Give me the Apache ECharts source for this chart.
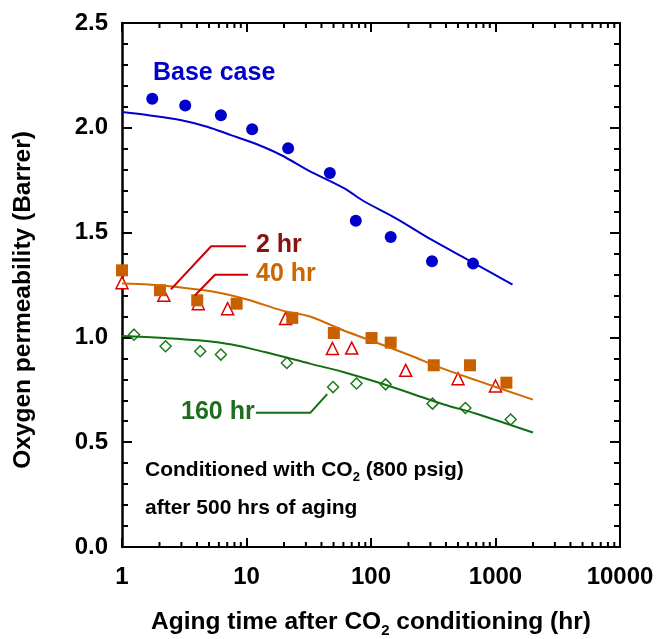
<!DOCTYPE html>
<html>
<head>
<meta charset="utf-8">
<script src="https://cdn.jsdelivr.net/npm/echarts@6/dist/echarts.min.js"></script>
<style>
  html, body { margin: 0; padding: 0; background: #fff; }
  #chart { width: 656px; height: 639px; }
</style>
</head>
<body>
<div id="chart"></div>
<script>
// measured points (hours, Barrer)
var baseHours = [1.75, 3.22, 6.23, 11.1, 21.6, 46.7, 75.5, 144, 309, 660];
var basePerm  = [2.139, 2.106, 2.060, 1.993, 1.902, 1.784, 1.557, 1.479, 1.363, 1.352];

var hr2Hours = [1, 2.17, 4.1, 7.05, 20.6, 49, 70, 190, 500, 1000];
var hr2Perm  = [1.261, 1.201, 1.161, 1.137, 1.090, 0.947, 0.949, 0.843, 0.803, 0.768];

var hr40Hours = [1, 2.02, 4.02, 8.33, 23.3, 50.3, 101, 144, 319, 624, 1223];
var hr40Perm  = [1.320, 1.225, 1.177, 1.161, 1.093, 1.021, 0.997, 0.975, 0.867, 0.867, 0.784];

var hr160Hours = [1.25, 2.24, 4.25, 6.23, 21.1, 49.6, 76.5, 131, 312, 573, 1325];
var hr160Perm  = [1.013, 0.958, 0.934, 0.918, 0.878, 0.763, 0.780, 0.776, 0.684, 0.663, 0.608];

// model curves
var baseFitHours = [1, 1.63, 3.0, 4.9, 7.6, 11.7, 19.1, 31.3, 61.6, 86.4, 160, 296, 660, 1370];
var baseFitPerm  = [2.075, 2.060, 2.036, 2.004, 1.964, 1.925, 1.869, 1.797, 1.710, 1.652, 1.567, 1.471, 1.357, 1.252];

var hr40FitHours = [1, 1.63, 3.0, 5.6, 10.3, 19.1, 32.3, 59.7, 111, 205, 379, 703, 2000];
var hr40FitPerm  = [1.257, 1.252, 1.238, 1.217, 1.180, 1.129, 1.100, 1.034, 0.975, 0.915, 0.851, 0.795, 0.703];

var hr160FitHours = [1, 2.2, 4.1, 7.6, 14, 32.3, 59.7, 111, 205, 379, 703, 2000];
var hr160FitPerm  = [1.007, 0.997, 0.986, 0.966, 0.930, 0.875, 0.835, 0.787, 0.735, 0.681, 0.636, 0.546];

// leader lines for the labels
var leader2Hours = [2.47, 5.2, 9.9];
var leader2Perm  = [1.229, 1.435, 1.435];
var leader40Hours = [3.85, 5.58, 10.3];
var leader40Perm  = [1.200, 1.299, 1.299];
var leader160Hours = [11.9, 32.5, 44.5];
var leader160Perm  = [0.640, 0.640, 0.729];

var yTicks = ['0.0', '0.5', '1.0', '1.5', '2.0', '2.5'];
var xDecades = [1, 10, 100, 1000];
var xMinorSteps = [2, 3, 4, 5, 6, 7, 8, 9];

var font = '"Liberation Sans", Arial, sans-serif';

function pairs(xs, ys) {
  return xs.map(function (x, i) { return [x, ys[i]]; });
}

var minorTicks = [];
xDecades.forEach(function (d) {
  xMinorSteps.forEach(function (m) { minorTicks.push([d * m, 0]); });
});

var chartDom = document.getElementById('chart');
var myChart = echarts.init(chartDom);
var option;

var axisLine = { show: true, onZero: false, lineStyle: { color: '#000', width: 2 } };

option = {
  animation: false,
  backgroundColor: '#fff',
  grid: { left: 122, right: 36, top: 23, bottom: 92, outerBoundsMode: 'none' },
  xAxis: [
    {
      type: 'log', logBase: 10, min: 1, max: 10000, position: 'bottom',
      axisLine: axisLine,
      axisTick: { inside: true, length: 9, lineStyle: { color: '#000', width: 2 } },
      splitLine: { show: false },
      axisLabel: {
        color: '#000', fontFamily: font, fontWeight: 'bold', fontSize: 24, margin: 18,
        formatter: function (v) { return String(Math.round(v)); }
      },
      name: 'Aging time after CO{s|2} conditioning (hr)',
      nameLocation: 'middle',
      nameGap: 59,
      nameTextStyle: {
        color: '#000', fontFamily: font, fontWeight: 'bold', fontSize: 24.5,
        rich: { s: { fontFamily: font, fontWeight: 'bold', fontSize: 15, padding: [17, 0, 0, 0] } }
      }
    },
    {
      type: 'log', logBase: 10, min: 1, max: 10000, position: 'top',
      axisLine: axisLine,
      axisTick: { inside: true, length: 9, lineStyle: { color: '#000', width: 2 } },
      axisLabel: { show: false },
      splitLine: { show: false }
    }
  ],
  yAxis: [
    {
      type: 'value', min: 0, max: 2.5, interval: 0.5, position: 'left',
      axisLine: { show: true, onZero: false, lineStyle: { color: '#000', width: 2.5 } },
      axisTick: { inside: true, length: 10, lineStyle: { color: '#000', width: 2 } },
      minorTick: { show: true, splitNumber: 5, length: 6, lineStyle: { color: '#000', width: 2 } },
      splitLine: { show: false },
      axisLabel: {
        color: '#000', fontFamily: font, fontWeight: 'bold', fontSize: 24, margin: 14,
        formatter: function (v) { return yTicks[Math.round(v / 0.5)]; }
      },
      name: 'Oxygen permeability (Barrer)',
      nameLocation: 'middle',
      nameGap: 86,
      nameTextStyle: { color: '#000', fontFamily: font, fontWeight: 'bold', fontSize: 24.5, padding: [0, 30, 0, 0] }
    },
    {
      type: 'value', min: 0, max: 2.5, interval: 0.5, position: 'right',
      axisLine: axisLine,
      axisTick: { inside: true, length: 10, lineStyle: { color: '#000', width: 2 } },
      minorTick: { show: true, splitNumber: 5, length: 6, lineStyle: { color: '#000', width: 2 } },
      splitLine: { show: false },
      axisLabel: { show: false }
    }
  ],
  series: [
    {
      name: 'x minor ticks', type: 'custom', silent: true, clip: false,
      data: minorTicks,
      renderItem: function (params, api) {
        var b = api.coord([api.value(0), 0]);
        var t = api.coord([api.value(0), 2.5]);
        return {
          type: 'group',
          children: [
            { type: 'line', shape: { x1: b[0], y1: b[1], x2: b[0], y2: b[1] - 5 }, style: { stroke: '#000', lineWidth: 2 } },
            { type: 'line', shape: { x1: t[0], y1: t[1], x2: t[0], y2: t[1] + 5 }, style: { stroke: '#000', lineWidth: 2 } }
          ]
        };
      }
    },
    {
      name: 'Base case model', type: 'line', smooth: 0.3, showSymbol: false, silent: true,
      data: pairs(baseFitHours, baseFitPerm),
      lineStyle: { color: '#0000cc', width: 2 }
    },
    {
      name: '40 hr model', type: 'line', smooth: 0.3, showSymbol: false, silent: true,
      data: pairs(hr40FitHours, hr40FitPerm),
      lineStyle: { color: '#d06a00', width: 2 }
    },
    {
      name: '160 hr model', type: 'line', smooth: 0.3, showSymbol: false, silent: true,
      data: pairs(hr160FitHours, hr160FitPerm),
      lineStyle: { color: '#116f11', width: 2 }
    },
    {
      name: '2 hr leader', type: 'line', showSymbol: false, silent: true,
      data: pairs(leader2Hours, leader2Perm),
      lineStyle: { color: '#cc0000', width: 2 }
    },
    {
      name: '40 hr leader', type: 'line', showSymbol: false, silent: true,
      data: pairs(leader40Hours, leader40Perm),
      lineStyle: { color: '#cc0000', width: 2 }
    },
    {
      name: '160 hr leader', type: 'line', showSymbol: false, silent: true,
      data: pairs(leader160Hours, leader160Perm),
      lineStyle: { color: '#116f11', width: 2 }
    },
    {
      name: 'Base case', type: 'scatter', symbol: 'circle', symbolSize: 12,
      data: pairs(baseHours, basePerm),
      itemStyle: { color: '#0000cc', opacity: 1 }
    },
    {
      name: '2 hr', type: 'scatter', symbol: 'triangle', symbolSize: 12,
      data: pairs(hr2Hours, hr2Perm),
      itemStyle: { color: '#fff', borderColor: '#dd0000', borderWidth: 1.5, opacity: 1 }
    },
    {
      name: '40 hr', type: 'scatter', symbol: 'rect', symbolSize: 12,
      data: pairs(hr40Hours, hr40Perm),
      itemStyle: { color: '#c86000', opacity: 1 }
    },
    {
      name: '160 hr', type: 'scatter', symbol: 'diamond', symbolSize: 11,
      data: pairs(hr160Hours, hr160Perm),
      itemStyle: { color: '#fff', borderColor: '#1e7a1e', borderWidth: 1.5, opacity: 1 }
    }
  ],
  graphic: [
    { type: 'text', left: 153, top: 61, style: { text: 'Base case', fill: '#0000cc', font: 'bold 25px ' + font } },
    { type: 'text', left: 256, top: 233, style: { text: '2 hr', fill: '#8b1010', font: 'bold 25px ' + font } },
    { type: 'text', left: 256, top: 262, style: { text: '40 hr', fill: '#cc6600', font: 'bold 25px ' + font } },
    { type: 'text', left: 181, top: 400, style: { text: '160 hr', fill: '#1e6e1e', font: 'bold 25px ' + font } },
    {
      type: 'text', left: 145, top: 460,
      style: {
        text: 'Conditioned with CO{s|2} (800 psig)', fill: '#000', font: 'bold 21px ' + font,
        rich: { s: { fontFamily: font, fontWeight: 'bold', fontSize: 13, padding: [14, 0, 0, 0] } }
      }
    },
    { type: 'text', left: 145, top: 498, style: { text: 'after 500 hrs of aging', fill: '#000', font: 'bold 21px ' + font } }
  ]
};

option && myChart.setOption(option);
</script>
</body>
</html>
